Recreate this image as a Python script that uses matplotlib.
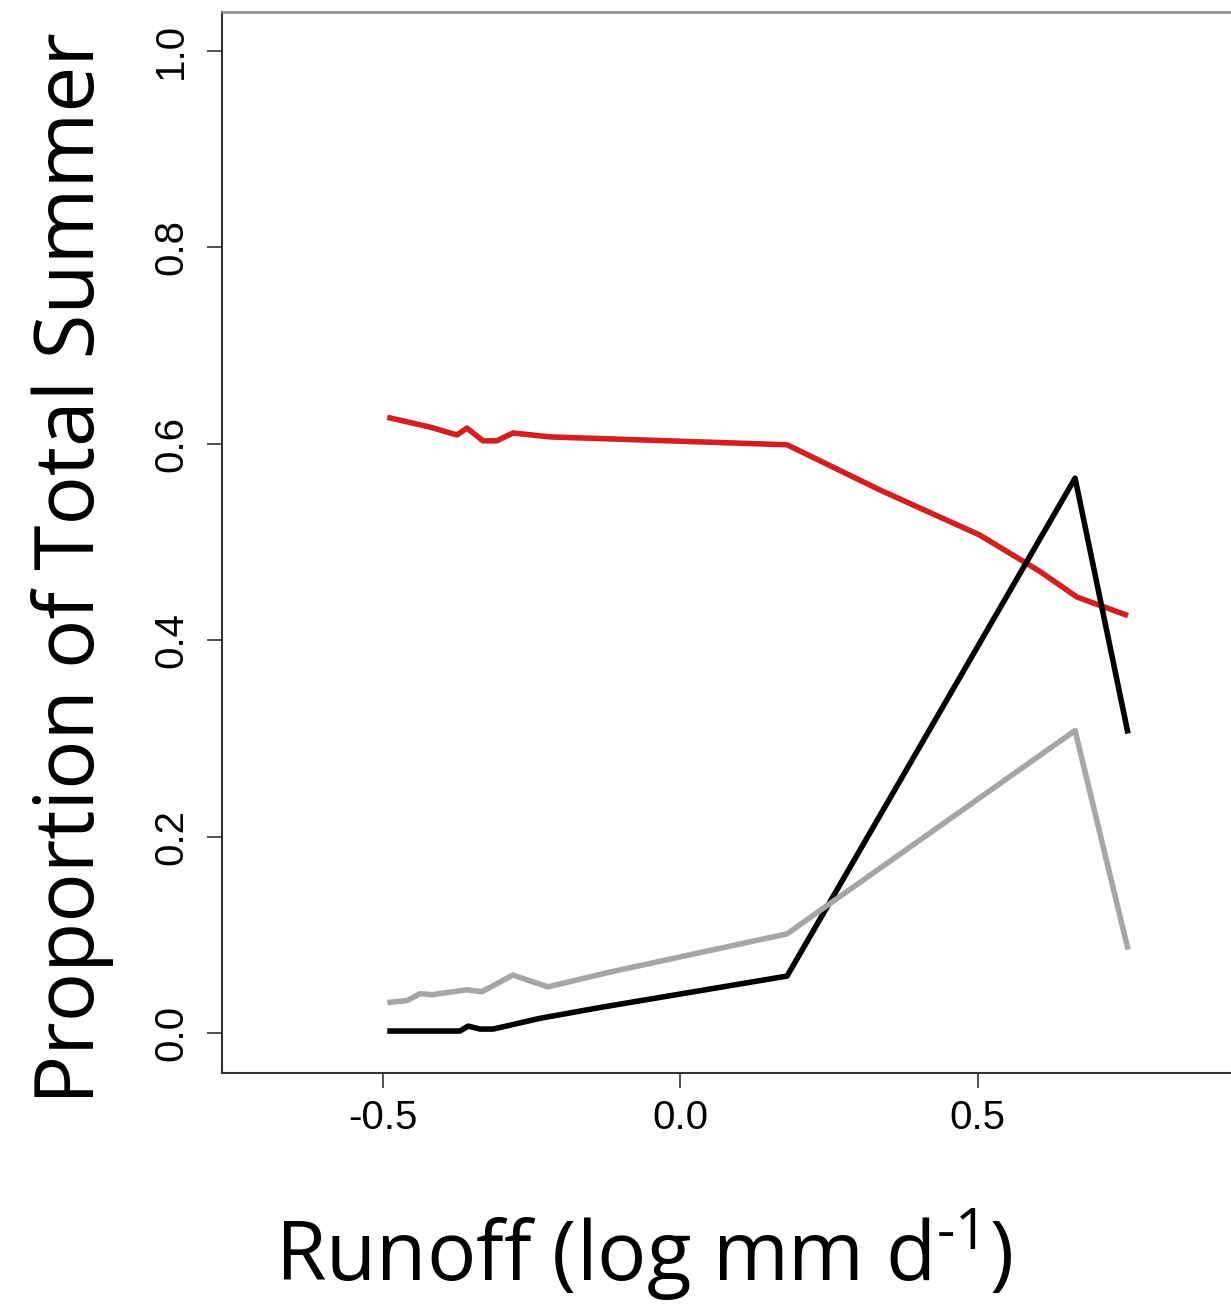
import matplotlib
matplotlib.use("Agg")
import matplotlib.pyplot as plt

plt.rcParams['mathtext.fontset'] = 'custom'
plt.rcParams['mathtext.rm'] = 'Open Sans'
plt.rcParams['mathtext.default'] = 'regular'

# red series
red_x = [-0.492, -0.420, -0.375, -0.358, -0.331, -0.308, -0.281, -0.218, 0.180, 0.336, 0.504, 0.605, 0.667, 0.753]
red_y = [0.627, 0.617, 0.609, 0.616, 0.603, 0.603, 0.611, 0.607, 0.599, 0.553, 0.507, 0.470, 0.444, 0.425]

# black series
blk_x = [-0.492, -0.370, -0.356, -0.336, -0.314, -0.235, -0.134, 0.180, 0.664, 0.753]
blk_y = [0.002, 0.002, 0.007, 0.004, 0.004, 0.015, 0.026, 0.058, 0.565, 0.305]

# grey series
gry_x = [-0.492, -0.459, -0.437, -0.417, -0.358, -0.333, -0.281, -0.222, -0.118, 0.180, 0.664, 0.753]
gry_y = [0.031, 0.033, 0.040, 0.039, 0.044, 0.042, 0.059, 0.047, 0.062, 0.101, 0.308, 0.085]

xticks = [-0.5, 0.0, 0.5]
yticks = [0.0, 0.2, 0.4, 0.6, 0.8, 1.0]

fig = plt.figure(figsize=(12.31, 13.05), dpi=100)
ax = fig.add_axes([222/1231, 1 - 1073/1305, 1 - 222/1231, (1073 - 12)/1305])

ax.plot(red_x, red_y, color='#d41f1f', lw=4, solid_capstyle='butt')
ax.plot(blk_x, blk_y, color='black', lw=4, solid_capstyle='butt')
ax.plot(gry_x, gry_y, color='#a6a6a6', lw=4, solid_capstyle='butt')

ax.set_xlim((222 - 680) / 595, (1231 - 680) / 595)
ax.set_ylim((1033 - 1073) / 982, (1033 - 12) / 982)

ax.set_xticks(xticks)
ax.set_xticklabels(['-0.5', '0.0', '0.5'], family='Liberation Sans', fontsize=29)
ax.set_yticks(yticks)
ax.set_yticklabels(['0.0', '0.2', '0.4', '0.6', '0.8', '1.0'], family='Liberation Sans',
                   fontsize=29, rotation=90, va='center')
ax.tick_params(axis='both', length=11, width=1.2, color='#333333', direction='out')
ax.tick_params(axis='x', pad=8)
ax.tick_params(axis='y', pad=12)

ax.spines['right'].set_visible(False)
ax.spines['top'].set_color('#888888')
ax.spines['top'].set_linewidth(1.8)
for s in ['left', 'bottom']:
    ax.spines[s].set_color('#333333')
    ax.spines[s].set_linewidth(1.5)

fig.text(73/1231, 1 - 568/1305, 'Proportion of Total Summer', family='Open Sans',
         fontsize=59, rotation=90, ha='center', va='center')
fig.text(644/1231, 1 - 1255/1305, r'Runoff (log mm d$^{\text{-}1}$)', family='Open Sans',
         fontsize=59, ha='center', va='center')

fig.savefig('out.png', dpi=100)
